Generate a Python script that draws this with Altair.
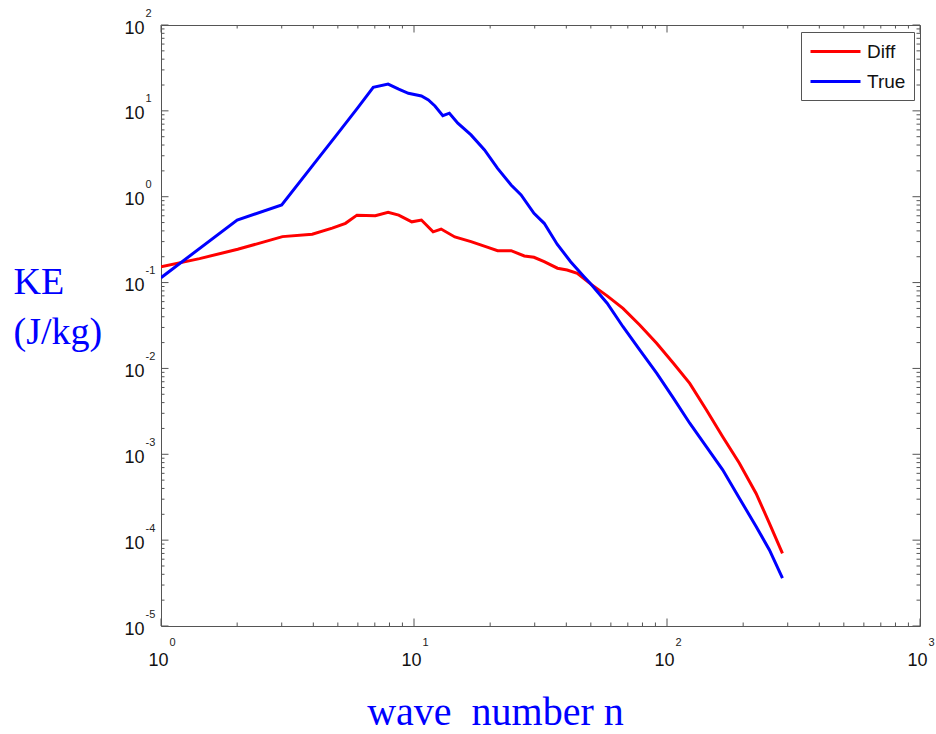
import altair as alt
import pandas as pd

# ---------------- data ----------------
true_n = [1, 2, 3, 4, 5, 6, 6.9, 7.9, 8.7, 9.5, 10.7, 11.4, 12.1, 13.0, 13.8, 14.9,
          16.8, 19.0, 21.4, 24.2, 26.5, 29.8, 32.7, 36.8, 41.6, 46.9, 50, 58, 67,
          78, 91, 106, 123, 143, 166, 193, 225, 254, 286]
true_ke = [0.114, 0.535, 0.80, 2.36, 5.47, 10.9, 18.8, 20.5, 17.9, 16.0, 14.9, 13.4,
           11.4, 8.8, 9.4, 7.2, 5.25, 3.5, 2.14, 1.37, 1.05, 0.64, 0.49, 0.28, 0.175,
           0.118, 0.096, 0.0574, 0.0306, 0.0164, 0.0088, 0.0045, 0.0023, 0.00123,
           0.00066, 0.00031, 0.000144, 0.000077, 0.000036]

diff_n = [1, 1.42, 2.01, 3.02, 3.96, 4.75, 5.36, 5.95, 7.03, 7.9, 8.7, 9.8, 10.7,
          11.9, 12.8, 14.5, 16.8, 19.6, 21.4, 24.2, 27.3, 29.8, 32.7, 36.9, 40.3,
          44.2, 50, 58, 67, 78, 91, 106, 123, 143, 166, 193, 225, 254, 286]
diff_ke = [0.153, 0.19, 0.244, 0.343, 0.366, 0.43, 0.49, 0.61, 0.60, 0.66, 0.61, 0.51,
           0.535, 0.39, 0.42, 0.34, 0.30, 0.257, 0.235, 0.235, 0.204, 0.197, 0.175,
           0.147, 0.14, 0.128, 0.096, 0.07, 0.050, 0.032, 0.0196, 0.0115, 0.0067,
           0.0033, 0.0016, 0.00079, 0.00035, 0.000157, 0.00007]

series_names = ["Diff", "True"]
series_colors = ["#ff0000", "#0000ff"]

x_decades = [0, 1, 2]
y_decades = [-5, -4, -3, -2, -1, 0, 1]
x_label_values = [1, 10, 100, 1000]
y_label_values = [1e-5, 1e-4, 1e-3, 1e-2, 1e-1, 1, 10, 100]

x_title = "wave\u00a0 number n"
y_title = ["KE", "(J/kg)"]

# ---------------- layout / style ----------------
W, H = 759, 601
LEFT, TOP = 161, 25
FRAME = "#555555"
TICK_FONT = "Liberation Sans"
TITLE_FONT = "Liberation Serif"
TITLE_COLOR = "#0000ff"
MAJOR, MINOR = 7.5, 3.5

lines_df = pd.concat([
    pd.DataFrame({"n": diff_n, "ke": diff_ke, "series": "Diff"}),
    pd.DataFrame({"n": true_n, "ke": true_ke, "series": "True"}),
], ignore_index=True)

x_minor = [k * 10 ** d for d in x_decades for k in range(2, 10)]
y_minor = [k * 10.0 ** d for d in y_decades for k in range(2, 10)]
xt_minor = pd.DataFrame({"v": x_minor})
xt_major = pd.DataFrame({"v": x_label_values})
yt_minor = pd.DataFrame({"v": y_minor})
yt_major = pd.DataFrame({"v": y_label_values})

xs = alt.Scale(type="log", domain=[1, 1000], nice=False)
ys = alt.Scale(type="log", domain=[1e-5, 100], nice=False)

x_axis_main = alt.Axis(
    values=x_label_values, labelExpr="'10'", ticks=False, tickSize=0, domain=False,
    grid=False, labelFont=TICK_FONT, labelFontSize=18, labelColor="#111111",
    labelPadding=39, labelBaseline="alphabetic", labelAlign="center", labelOffset=-3,
    labelOverlap=False, labelFlush=False, labelBound=False, orient="bottom",
    title=x_title, titleFont=TITLE_FONT, titleFontSize=40, titleFontWeight="normal",
    titleColor=TITLE_COLOR, titleX=495 - LEFT, titleY=98.5, titleAlign="center",
    titleBaseline="alphabetic", titleAngle=0,
)
x_axis_exp = alt.Axis(
    values=x_label_values, labelExpr="'' + round(log(datum.value) / LN10)",
    ticks=False, tickSize=0, domain=False, grid=False, labelFont=TICK_FONT,
    labelFontSize=11, labelColor="#222222", labelPadding=19,
    labelBaseline="alphabetic", labelAlign="left", labelOffset=8,
    labelOverlap=False, labelFlush=False, labelBound=False, orient="bottom",
    title=None,
)
y_axis_main = alt.Axis(
    values=y_label_values, labelExpr="'10'", ticks=False, tickSize=0, domain=False,
    grid=False, labelFont=TICK_FONT, labelFontSize=18, labelColor="#111111",
    labelPadding=17, labelBaseline="alphabetic", labelAlign="right", labelOffset=8,
    labelOverlap=False, labelFlush=False, labelBound=False, orient="left",
    title=y_title, titleFont=TITLE_FONT, titleFontSize=38, titleFontWeight="normal",
    titleColor=TITLE_COLOR, titleX=13 - LEFT, titleY=293 - TOP, titleAlign="left",
    titleBaseline="alphabetic", titleAngle=0, titleLineHeight=50,
)
y_axis_exp = alt.Axis(
    values=y_label_values, labelExpr="'' + round(log(datum.value) / LN10)",
    ticks=False, tickSize=0, domain=False, grid=False, labelFont=TICK_FONT,
    labelFontSize=11, labelColor="#222222", labelPadding=16,
    labelBaseline="alphabetic", labelAlign="left", labelOffset=-9,
    labelOverlap=False, labelFlush=False, labelBound=False, orient="left",
    title=None,
)

lines = alt.Chart(lines_df).mark_line(strokeWidth=3, clip=True).encode(
    x=alt.X("n:Q", scale=xs, axis=x_axis_main),
    y=alt.Y("ke:Q", scale=ys, axis=y_axis_main),
    color=alt.Color(
        "series:N",
        scale=alt.Scale(domain=series_names, range=series_colors),
        legend=alt.Legend(
            title=None, orient="none", legendX=801 - LEFT, legendY=32 - TOP,
            symbolType="M-1,0H4", symbolSize=400, symbolStrokeWidth=3,
            labelFont=TICK_FONT, labelFontSize=19, labelColor="#111111",
            labelOffset=35, padding=8, rowPadding=8,
            strokeColor=FRAME, fillColor="white",
        ),
    ),
)


def y_ticks(df, x0, x1, axis):
    return alt.Chart(df).mark_rule(color=FRAME, strokeWidth=1).encode(
        y=alt.Y("v:Q", scale=ys, axis=axis),
        x=alt.value(x0), x2=alt.value(x1),
    )


def x_ticks(df, y0, y1, axis):
    return alt.Chart(df).mark_rule(color=FRAME, strokeWidth=1).encode(
        x=alt.X("v:Q", scale=xs, axis=axis),
        y=alt.value(y0), y2=alt.value(y1),
    )


layers = [
    y_ticks(yt_minor, 0, MINOR, y_axis_exp),
    y_ticks(yt_major, 0, MAJOR, None),
    y_ticks(yt_minor, W, W - MINOR, None),
    y_ticks(yt_major, W, W - MAJOR, None),
    x_ticks(xt_minor, H, H - MINOR, x_axis_exp),
    x_ticks(xt_major, H, H - MAJOR, None),
    x_ticks(xt_minor, 0, MINOR, None),
    x_ticks(xt_major, 0, MAJOR, None),
    lines,
]

chart = alt.layer(*layers).resolve_axis(
    x="independent", y="independent"
).properties(
    width=W, height=H,
    autosize=alt.AutoSizeParams(type="none"),
    padding={"left": LEFT, "top": TOP, "right": 936 - LEFT - W, "bottom": 734 - TOP - H},
    background="white",
).configure_view(
    stroke=FRAME, strokeWidth=1,
)

chart.save("out.html", embed_options={"renderer": "svg", "actions": False})
